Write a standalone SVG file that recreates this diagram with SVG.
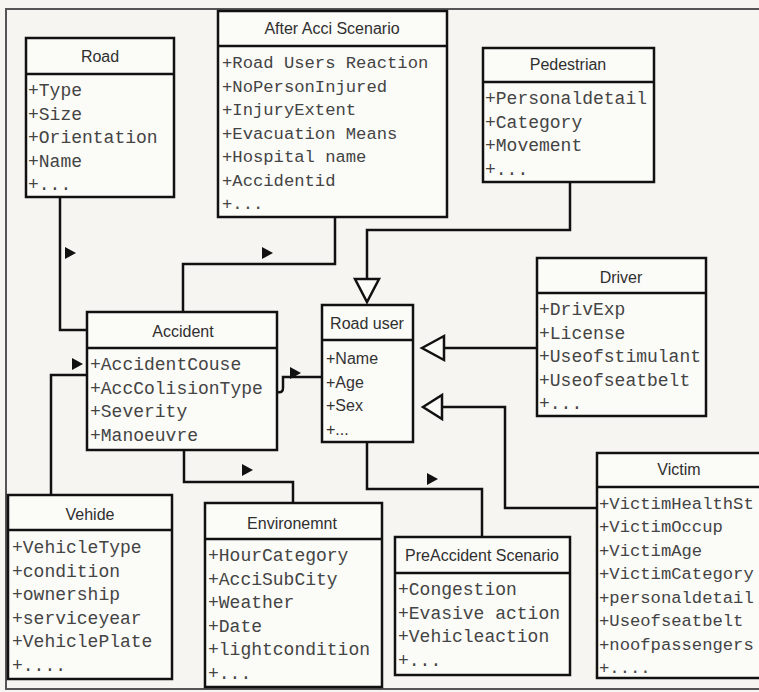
<svg xmlns="http://www.w3.org/2000/svg" width="759" height="692" viewBox="0 0 759 692">
  <style>
    .bg { fill: #f6f5f1; }
    .frame { fill: none; stroke: #555; stroke-width: 2; }
    .box { fill: #fbfbf8; stroke: #111; stroke-width: 2.5; }
    .sep { stroke: #111; stroke-width: 2.5; }
    .title { font-family: "Liberation Sans", Arial, sans-serif; font-size: 16px; fill: #2f2f2f; text-anchor: middle; }
    .attr { font-family: "Liberation Mono", "Courier New", monospace; font-size: 18px; fill: #444; }
    .attr-sm { font-size: 17.2px; }
    .attr-s { font-family: "Liberation Sans", Arial, sans-serif; font-size: 16px; fill: #333; }
    .line { fill: none; stroke: #111; stroke-width: 2.5; stroke-linejoin: miter; }
    .gen { fill: #fbfbf8; stroke: #111; stroke-width: 2.5; stroke-linejoin: miter; }
    .dir { fill: #111; }
  </style>

  <rect class="bg" x="0" y="0" width="759" height="692"/>
  <!-- outer frame -->
  <path class="frame" d="M759 9 H6 V689 H759"/>

  <!-- connectors -->
  <g id="connectors">
    <path class="line" d="M60 197 V330 H87"/>
    <path class="line" d="M335 217 V264 H183 V312"/>
    <path class="line" d="M570 182 V230 H367 V279"/>
    <path class="line" d="M444 348 H537"/>
    <path class="line" d="M597 508 H505 V407 H442"/>
    <path class="line" d="M278 392 Q283 393 283 388 V377 H322"/>
    <path class="line" d="M51 495 V375 H87"/>
    <path class="line" d="M184 450 V482 H293 V503"/>
    <path class="line" d="M367 442 V489 H482 V537"/>
    <!-- generalization heads -->
    <polygon class="gen" points="355,279 379,279 367,302"/>
    <polygon class="gen" points="422,348 444,336 444,360"/>
    <polygon class="gen" points="423,407 442,395 442,419"/>
    <!-- direction markers -->
    <polygon class="dir" points="65,247 65,259 76,253"/>
    <polygon class="dir" points="262,247 262,259 273,253"/>
    <polygon class="dir" points="72,358 72,370 83,364"/>
    <polygon class="dir" points="290,367 290,379 301,373"/>
    <polygon class="dir" points="242,464 242,476 253,470"/>
    <polygon class="dir" points="427,473 427,485 438,479"/>
  </g>

  <g id="road">
    <rect class="box" x="26" y="38" width="148" height="159"/>
    <line class="sep" x1="26" y1="74" x2="174" y2="74"/>
    <text class="title" x="100" y="62">Road</text>
    <text class="attr" x="28" y="96">+Type</text>
    <text class="attr" x="28" y="119.5">+Size</text>
    <text class="attr" x="28" y="143">+Orientation</text>
    <text class="attr" x="28" y="166.5">+Name</text>
    <text class="attr" x="28" y="190">+...</text>
  </g>

  <g id="after-acci-scenario">
    <rect class="box" x="218" y="11" width="229" height="206"/>
    <line class="sep" x1="218" y1="46" x2="447" y2="46"/>
    <text class="title" x="332" y="34">After Acci Scenario</text>
    <text class="attr attr-sm" x="222" y="68">+Road Users Reaction</text>
    <text class="attr attr-sm" x="222" y="91.5">+NoPersonInjured</text>
    <text class="attr attr-sm" x="222" y="115">+InjuryExtent</text>
    <text class="attr attr-sm" x="222" y="138.5">+Evacuation Means</text>
    <text class="attr attr-sm" x="222" y="162">+Hospital name</text>
    <text class="attr attr-sm" x="222" y="185.5">+Accidentid</text>
    <text class="attr attr-sm" x="222" y="209">+...</text>
  </g>

  <g id="pedestrian">
    <rect class="box" x="483" y="48" width="171" height="134"/>
    <line class="sep" x1="483" y1="82" x2="654" y2="82"/>
    <text class="title" x="568" y="70">Pedestrian</text>
    <text class="attr" x="485" y="104">+Personaldetail</text>
    <text class="attr" x="485" y="127.5">+Category</text>
    <text class="attr" x="485" y="151">+Movement</text>
    <text class="attr" x="485" y="174.5">+...</text>
  </g>

  <g id="road-user">
    <rect class="box" x="322" y="305" width="91" height="137"/>
    <line class="sep" x1="322" y1="340" x2="413" y2="340"/>
    <text class="title" x="367" y="329">Road user</text>
    <text class="attr-s" x="326" y="364">+Name</text>
    <text class="attr-s" x="326" y="387.5">+Age</text>
    <text class="attr-s" x="326" y="411">+Sex</text>
    <text class="attr-s" x="326" y="434.5">+...</text>
  </g>

  <g id="driver">
    <rect class="box" x="537" y="258" width="169" height="158"/>
    <line class="sep" x1="537" y1="293" x2="706" y2="293"/>
    <text class="title" x="621" y="283">Driver</text>
    <text class="attr" x="539" y="315">+DrivExp</text>
    <text class="attr" x="539" y="338.5">+License</text>
    <text class="attr" x="539" y="362">+Useofstimulant</text>
    <text class="attr" x="539" y="385.5">+Useofseatbelt</text>
    <text class="attr" x="539" y="409">+...</text>
  </g>

  <g id="accident">
    <rect class="box" x="87" y="312" width="190" height="138"/>
    <line class="sep" x1="87" y1="348" x2="277" y2="348"/>
    <text class="title" x="183" y="337">Accident</text>
    <text class="attr" x="90" y="370">+AccidentCouse</text>
    <text class="attr" x="90" y="393.5">+AccColisionType</text>
    <text class="attr" x="90" y="417">+Severity</text>
    <text class="attr" x="90" y="440.5">+Manoeuvre</text>
  </g>

  <g id="vehicle">
    <rect class="box" x="8" y="495" width="164" height="184"/>
    <line class="sep" x1="8" y1="530" x2="172" y2="530"/>
    <text class="title" x="90" y="520">Vehide</text>
    <text class="attr" x="12" y="553">+VehicleType</text>
    <text class="attr" x="12" y="576.5">+condition</text>
    <text class="attr" x="12" y="600">+ownership</text>
    <text class="attr" x="12" y="623.5">+serviceyear</text>
    <text class="attr" x="12" y="647">+VehiclePlate</text>
    <text class="attr" x="12" y="670.5">+....</text>
  </g>

  <g id="environment">
    <rect class="box" x="205" y="503" width="177" height="184"/>
    <line class="sep" x1="205" y1="539" x2="382" y2="539"/>
    <text class="title" x="292" y="529">Environemnt</text>
    <text class="attr" x="208" y="561">+HourCategory</text>
    <text class="attr" x="208" y="584.5">+AcciSubCity</text>
    <text class="attr" x="208" y="608">+Weather</text>
    <text class="attr" x="208" y="631.5">+Date</text>
    <text class="attr" x="208" y="655">+lightcondition</text>
    <text class="attr" x="208" y="678.5">+...</text>
  </g>

  <g id="preaccident-scenario">
    <rect class="box" x="395" y="537" width="175" height="138"/>
    <line class="sep" x1="395" y1="573" x2="570" y2="573"/>
    <text class="title" x="482" y="561">PreAccident Scenario</text>
    <text class="attr" x="398" y="595">+Congestion</text>
    <text class="attr" x="398" y="618.5">+Evasive action</text>
    <text class="attr" x="398" y="642">+Vehicleaction</text>
    <text class="attr" x="398" y="665.5">+...</text>
  </g>

  <g id="victim">
    <rect class="box" x="597" y="453" width="175" height="225"/>
    <line class="sep" x1="597" y1="487" x2="772" y2="487"/>
    <text class="title" x="679" y="475">Victim</text>
    <text class="attr attr-sm" x="599" y="508.5">+VictimHealthSt</text>
    <text class="attr attr-sm" x="599" y="532">+VictimOccup</text>
    <text class="attr attr-sm" x="599" y="555.5">+VictimAge</text>
    <text class="attr attr-sm" x="599" y="579">+VictimCategory</text>
    <text class="attr attr-sm" x="599" y="602.5">+personaldetail</text>
    <text class="attr attr-sm" x="599" y="626">+Useofseatbelt</text>
    <text class="attr attr-sm" x="599" y="649.5">+noofpassengers</text>
    <text class="attr attr-sm" x="599" y="673">+....</text>
  </g>
</svg>
